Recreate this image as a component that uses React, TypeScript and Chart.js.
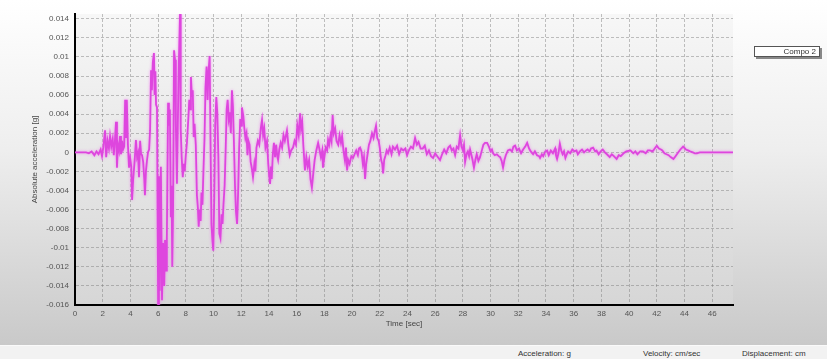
import React, { useEffect, useRef } from "react";
import { Chart, registerables } from "chart.js";

Chart.register(...registerables);

const timeSec = [
  0, 0.8, 1.0, 1.2, 1.4, 1.55, 1.7, 1.85, 1.95, 2.05, 2.17, 2.25, 2.35, 2.45, 2.53, 2.62, 2.72, 2.8, 2.88, 2.96,
  3.03, 3.1, 3.18, 3.25, 3.32, 3.4, 3.47, 3.55, 3.62, 3.68, 3.74, 3.82, 3.9, 3.98, 4.06, 4.12, 4.2, 4.3, 4.4, 4.48,
  4.55, 4.62, 4.7, 4.77, 4.84, 4.92, 5.0, 5.05, 5.12, 5.2, 5.27, 5.35, 5.42, 5.49, 5.55, 5.62, 5.7, 5.75, 5.8, 5.85,
  5.92, 6.0, 6.06, 6.12, 6.2, 6.28, 6.36, 6.44, 6.5, 6.57, 6.63, 6.72, 6.78, 6.85, 6.92, 6.97, 7.02, 7.08, 7.15, 7.22,
  7.28, 7.36, 7.42, 7.5, 7.58, 7.63, 7.7, 7.78, 7.85, 7.92, 8.0, 8.08, 8.18, 8.25, 8.32, 8.37, 8.44, 8.5, 8.57, 8.63,
  8.72, 8.8, 8.87, 8.93, 9.0, 9.07, 9.13, 9.2, 9.27, 9.35, 9.42, 9.5, 9.57, 9.64, 9.72, 9.78, 9.85, 9.92, 9.98, 10.05,
  10.12, 10.2, 10.27, 10.35, 10.42, 10.5, 10.58, 10.65, 10.72, 10.8, 10.88, 10.95, 11.02, 11.1, 11.17, 11.25, 11.33, 11.4, 11.47, 11.55,
  11.62, 11.7, 11.78, 11.85, 11.93, 12.0, 12.05, 12.15, 12.22, 12.3, 12.38, 12.45, 12.52, 12.6, 12.68, 12.78, 12.85, 12.95, 13.02, 13.1,
  13.2, 13.3, 13.42, 13.5, 13.58, 13.66, 13.75, 13.86, 13.95, 14.02, 14.08, 14.15, 14.2, 14.28, 14.36, 14.44, 14.52, 14.6, 14.66, 14.75,
  14.85, 14.95, 15.05, 15.15, 15.3, 15.4, 15.5, 15.6, 15.74, 15.85, 15.95, 16.05, 16.15, 16.25, 16.32, 16.4, 16.48, 16.6, 16.7, 16.8,
  16.9, 17.0, 17.1, 17.2, 17.3, 17.42, 17.55, 17.65, 17.75, 17.85, 17.9, 18.0, 18.1, 18.2, 18.27, 18.35, 18.45, 18.52, 18.6, 18.68,
  18.78, 18.88, 19.0, 19.1, 19.2, 19.28, 19.38, 19.48, 19.56, 19.64, 19.72, 19.82, 19.95, 20.07, 20.18, 20.3, 20.42, 20.5, 20.58, 20.68,
  20.78, 20.86, 20.94, 21.02, 21.12, 21.22, 21.32, 21.44, 21.55, 21.64, 21.73, 21.82, 21.92, 22.0, 22.1, 22.18, 22.24, 22.32, 22.42, 22.5,
  22.6, 22.72, 22.85, 22.95, 23.1, 23.25, 23.4, 23.55, 23.7, 23.85, 23.97, 24.1, 24.25, 24.4, 24.55, 24.68, 24.8, 24.95, 25.1, 25.25,
  25.4, 25.55, 25.7, 25.85, 26.0, 26.15, 26.35, 26.5, 26.65, 26.8, 26.95, 27.08, 27.2, 27.32, 27.44, 27.56, 27.68, 27.8, 27.9, 28.0,
  28.08, 28.16, 28.26, 28.36, 28.45, 28.52, 28.62, 28.7, 28.8, 28.9, 29.0, 29.12, 29.24, 29.35, 29.48, 29.6, 29.75, 29.88, 30.0, 30.1,
  30.18, 30.3, 30.45, 30.58, 30.69, 30.8, 30.9, 31.0, 31.1, 31.25, 31.4, 31.55, 31.65, 31.77, 31.9, 32.05, 32.2, 32.35, 32.5, 32.64,
  32.78, 32.9, 33.07, 33.2, 33.35, 33.5, 33.57, 33.7, 33.8, 33.95, 34.08, 34.2, 34.35, 34.5, 34.66, 34.72, 34.8, 34.9, 35.0, 35.1,
  35.2, 35.3, 35.4, 35.5, 35.6, 35.75, 35.9, 36.05, 36.2, 36.3, 36.45, 36.6, 36.75, 36.9, 37.0, 37.15, 37.25, 37.4, 37.55, 37.65,
  37.8, 37.95, 38.1, 38.25, 38.4, 38.6, 38.75, 38.9, 39.1, 39.25, 39.4, 39.6, 39.8, 40.1, 40.3, 40.45, 40.6, 40.8, 41.0, 41.2,
  41.35, 41.5, 41.7, 41.85, 42.0, 42.15, 42.3, 42.4, 42.55, 42.7, 42.85, 43.0, 43.2, 43.35, 43.5, 43.7, 43.9, 44.1, 44.25, 44.4,
  44.6, 44.75, 44.9, 45.1, 45.3, 47.5,
];

const accelG = [
  0, 0, -0.0001, 0.0001, -0.0003, 0.0001, -0.0002, 0.0003, -0.0004, 0.0006, 0.0023, -0.0005, 0.0012, 0.0004, 0.0017, 0.0006, 0.0014, -0.0003, 0.0012, 0.0032,
  -0.0016, 0.0008, 0.0002, 0.0017, -0.0002, 0.0012, 0.0003, 0.0006, 0.0055, 0.0015, 0.0055, 0.0008, -0.0016, -0.0006, -0.0015, -0.005, -0.0028, -0.001, 0.0013, -0.0005,
  -0.0001, -0.0026, 0.0012, -0.0002, -0.0003, -0.001, -0.0028, -0.0045, -0.002, -0.0008, 0, 0.0003, 0.0023, 0.0086, 0.0065, 0.0095, 0.0104, 0.006, 0.0085, 0.005,
  0.0047, -0.0159, -0.0025, -0.0145, -0.0015, -0.0155, -0.0095, -0.014, -0.0092, -0.0124, -0.009, 0.0052, 0.0028, 0.0045, -0.0068, -0.0035, -0.012, -0.006, 0.0107, 0.0097,
  0.0028, -0.0033, 0.003, 0.0095, 0.0145, 0.0025, -0.0005, -0.0026, -0.0012, -0.002, -0.0003, 0.001, 0.0035, 0.0055, 0.0045, 0.0079, 0.0058, 0.0065, 0.0016, 0.003,
  0.0008, -0.0045, -0.0058, -0.0078, -0.006, -0.0072, -0.0042, -0.0055, -0.002, 0.0015, 0.0068, 0.009, 0.0055, 0.0085, 0.0101, 0.0015, -0.0075, -0.0092, -0.0103, -0.005,
  0.0028, 0.0058, 0.0042, -0.0005, -0.0085, -0.009, -0.0065, -0.0075, -0.0054, -0.0035, 0.0005, 0.0045, 0.0055, 0.0035, 0.0042, 0.002, 0.0065, 0.0048, 0.0012, -0.0035,
  -0.0062, -0.0075, -0.004, 0.0005, 0.0035, 0.0028, 0.0047, 0.0038, 0.0026, 0.0015, 0.002, -0.0003, 0.0012, 0.0008, -0.001, -0.0018, -0.0026, -0.0012, -0.002, 0.0005,
  0.0012, 0.0008, 0.0026, 0.0034, 0.0018, 0.0025, 0.0005, 0.0012, -0.0012, -0.0025, -0.0033, -0.0015, -0.0028, -0.0002, 0.001, -0.0005, 0.0008, -0.0004, -0.0008, 0.0003,
  0.001, 0.0005, 0.0018, 0.0012, 0.0023, 0.0008, -0.0003, 0.0002, 0.0005, 0.0012, 0.0008, 0.0028, 0.0018, 0.0041, 0.0025, 0.0032, 0.0008, -0.0019, -0.0005, -0.0015,
  -0.0008, -0.0028, -0.0037, -0.0022, -0.0008, 0.0002, 0.001, 0.0003, -0.0005, 0.0002, -0.0016, -0.0005, 0.0005, 0.0002, 0.0013, 0.0008, 0.0018, 0.0012, 0.0039, 0.002,
  0.0025, 0.0012, 0.0008, 0.0018, 0.001, 0.0017, 0.0002, -0.0008, 0.0005, -0.0019, -0.0008, -0.0012, -0.0004, -0.0006, -0.0002, 0.0002, -0.0003, 0.0004, 0.0005, 0.0001,
  -0.0012, -0.0005, -0.0028, -0.0012, -0.0002, 0.0008, 0.0012, 0.002, 0.0015, 0.0022, 0.0028, 0.0015, 0.0012, 0.0005, -0.0008, -0.0012, -0.0022, -0.0008, -0.0003, 0.0002,
  -0.0001, 0.0005, -0.0002, 0.0006, 0.0003, 0.0007, -0.0002, 0.0004, 0.0002, 0.0004, -0.0003, 0.0002, 0.0006, 0.0004, 0.0015, 0.0008, 0.0011, 0.0004, 0.0004, 0.0007,
  -0.0002, 0.0002, -0.0004, -0.0006, -0.0001, -0.0004, -0.0008, -0.0002, 0.0003, -0.0001, 0.0005, 0.0007, 0.0002, 0.0004, -0.0003, 0.0006, 0.0004, 0.0018, 0.0006, 0.0002,
  0.0008, -0.001, -0.0002, 0.0001, -0.0004, 0.0003, -0.0003, -0.0008, -0.0016, -0.0008, -0.0002, -0.0009, -0.0005, 0.0001, 0.0008, 0.001, 0.001, 0.0006, 0.0001, 0.0003,
  -0.0001, -0.0003, -0.0002, -0.0004, -0.0005, -0.0009, -0.0016, -0.0008, -0.0003, 0.0002, 0.0003, 0.0001, 0.0006, 0.0007, 0.0002, 0.0004, -0.0001, 0.0003, 0.0006, 0.001,
  0.0004, 0.0001, -0.0002, 0.0001, -0.0003, -0.0004, -0.0006, -0.0002, -0.0004, 0.0001, 0.0002, -0.0003, 0.0002, -0.0001, 0.0004, -0.0003, -0.0007, -0.0001, 0.0009, 0.0002,
  -0.0002, 0.0001, -0.0006, -0.0002, 0.0001, -0.0001, 0.0003, 0.0001, 0.0002, -0.0002, 0.0001, 0.0003, 0, 0.0002, 0.0003, 0.0001, 0.0004, 0.0005, 0.0001, 0.0002,
  -0.0002, 0.0001, 0.0003, 0, -0.0002, -0.0005, -0.0002, -0.0004, -0.0007, -0.0003, -0.0004, -0.0001, 0.0001, 0.0002, -0.0001, 0.0001, -0.0002, 0.0001, 0.0001, -0.0001,
  0.0002, 0.0002, 0.0001, 0.0004, 0.0007, 0.0004, 0.0003, 0.0002, -0.0001, -0.0002, -0.0003, -0.0005, -0.0007, -0.0004, -0.0001, 0.0003, 0.0006, 0.0003, 0.0002, 0.0001,
  0, -0.0001, -0.0001, 0, 0, 0,
];

const xTicks = [0, 2, 4, 6, 8, 10, 12, 14, 16, 18, 20, 22, 24, 26, 28, 30, 32, 34, 36, 38, 40, 42, 44, 46];
const yTicks = [0.014, 0.012, 0.01, 0.008, 0.006, 0.004, 0.002, 0, -0.002, -0.004, -0.006, -0.008, -0.01, -0.012, -0.014, -0.016];
const xRange = [0, 47.5];
const yRange = [-0.016, 0.0145];

const seriesLabel = "Compo 2";
const xTitle = "Time [sec]";
const yTitle = "Absolute acceleration [g]";
const statusItems = ["Acceleration: g", "Velocity: cm/sec", "Displacement: cm"];
const statusLeft = [518, 643, 742];

const FONT = "'Liberation Sans', Arial, sans-serif";

export default function App() {
  const ref = useRef<HTMLCanvasElement>(null);

  useEffect(() => {
    if (!ref.current) return;
    const plotBg = {
      id: "plotBg",
      beforeDraw(chart: any) {
        const { ctx, chartArea: a } = chart;
        const g = ctx.createLinearGradient(0, a.top, 0, a.bottom);
        g.addColorStop(0, "#f7f7f7");
        g.addColorStop(1, "#d6d6d6");
        ctx.save();
        ctx.fillStyle = g;
        ctx.fillRect(a.left, a.top, a.right - a.left, a.bottom - a.top);
        ctx.restore();
      },
    };
    const glow = {
      id: "glow",
      beforeDatasetsDraw(chart: any) {
        chart.ctx.save();
        chart.ctx.shadowColor = "rgba(240,130,240,0.9)";
        chart.ctx.shadowBlur = 3;
      },
      afterDatasetsDraw(chart: any) {
        chart.ctx.restore();
      },
    };
    const tickFont = { family: FONT, size: 8 };
    const chart = new Chart(ref.current, {
      type: "line",
      data: {
        datasets: [
          {
            label: seriesLabel,
            data: timeSec.map((t, i) => ({ x: t, y: accelG[i] })),
            borderColor: "rgb(222,70,222)",
            borderWidth: 1.8,
            pointRadius: 0,
            tension: 0,
          },
        ],
      },
      options: {
        animation: false,
        responsive: false,
        layout: { padding: { left: 0, right: 94, top: 14, bottom: 0 } },
        plugins: { legend: { display: false }, tooltip: { enabled: false } },
        scales: {
          x: {
            type: "linear",
            min: xRange[0],
            max: xRange[1],
            afterBuildTicks: (s: any) => {
              s.ticks = xTicks.map((v) => ({ value: v }));
            },
            afterFit: (s: any) => {
              s.height = 40;
            },
            ticks: {
              padding: 4,
              font: tickFont,
              color: "#555",
              maxRotation: 0,
              autoSkip: false,
              callback: (v: any) => String(v),
            },
            grid: { color: "rgba(120,120,120,0.45)", drawTicks: false, tickLength: 0 },
            border: { color: "#000", width: 2, dash: [3, 2] },
            title: { display: true, text: xTitle, font: tickFont, color: "#444", padding: { top: 0, bottom: 16 } },
          },
          y: {
            type: "linear",
            min: yRange[0],
            max: yRange[1],
            afterBuildTicks: (s: any) => {
              s.ticks = yTicks.map((v) => ({ value: v }));
            },
            afterFit: (s: any) => {
              s.width = 75;
            },
            ticks: {
              padding: 6,
              font: tickFont,
              color: "#555",
              autoSkip: false,
              callback: (v: any) => String(parseFloat(Number(v).toFixed(4))),
            },
            grid: { color: "rgba(120,120,120,0.45)", drawTicks: false, tickLength: 0 },
            border: { color: "#000", width: 2, dash: [3, 2] },
            title: { display: true, text: yTitle, font: tickFont, color: "#444", padding: { top: 30, bottom: 0 } },
          },
        },
      },
      plugins: [plotBg, glow],
    } as any);
    return () => chart.destroy();
  }, []);

  return (
    <div
      style={{
        position: "fixed",
        left: 0,
        top: 0,
        width: 827,
        height: 359,
        overflow: "hidden",
        background: "linear-gradient(to bottom, #ffffff 0px, #eeeeee 150px, #c9c9c9 345px)",
        fontFamily: FONT,
      }}
    >
      <canvas ref={ref} width={827} height={345} style={{ display: "block", position: "absolute", left: 0, top: 0 }} />
      <div
        style={{
          position: "absolute",
          left: 754,
          top: 46,
          width: 66,
          height: 11,
          boxSizing: "border-box",
          border: "1px solid #555",
          background: "#fff",
          boxShadow: "2px 2px 0 #888",
          fontSize: 8,
          lineHeight: "9px",
          color: "#333",
          textAlign: "right",
          paddingRight: 3,
        }}
      >
        {seriesLabel}
      </div>
      <div
        style={{
          position: "absolute",
          left: 0,
          top: 345,
          width: 827,
          height: 14,
          background: "#f2f2f2",
          borderTop: "1px solid #fafafa",
          boxSizing: "border-box",
        }}
      >
        {statusItems.map((s, i) => (
          <span
            key={s}
            style={{ position: "absolute", left: statusLeft[i], top: 3, fontSize: 8, lineHeight: "10px", color: "#333" }}
          >
            {s}
          </span>
        ))}
      </div>
    </div>
  );
}
